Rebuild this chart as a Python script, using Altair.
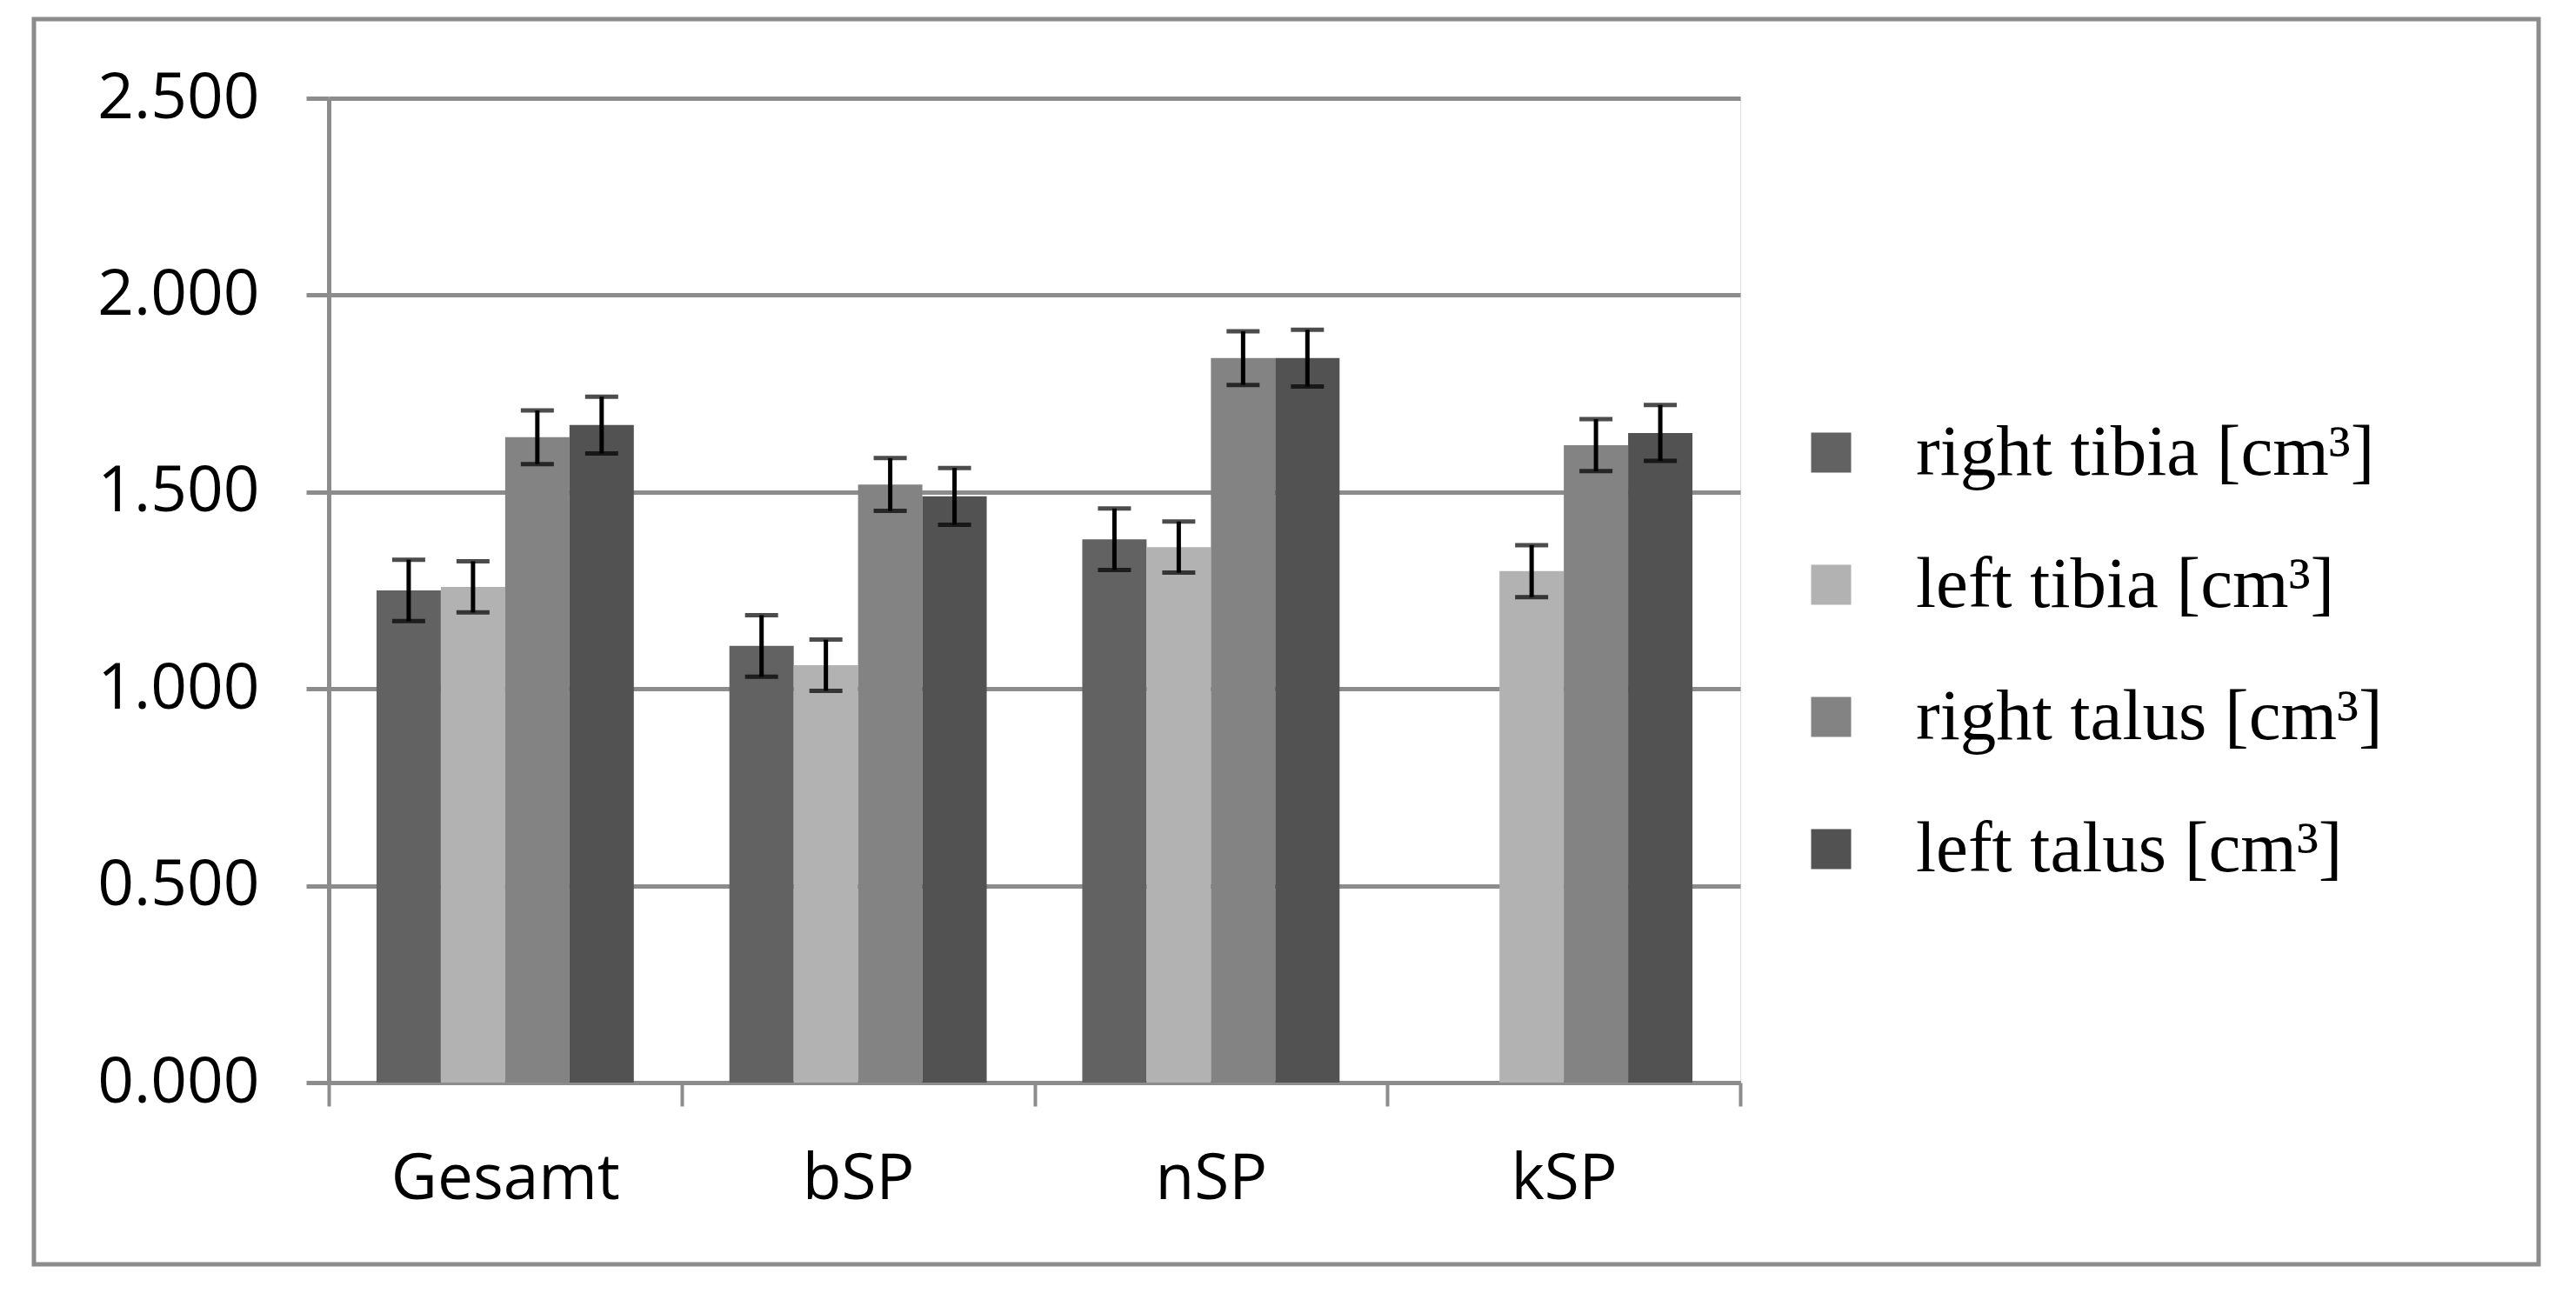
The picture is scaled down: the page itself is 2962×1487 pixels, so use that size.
import altair as alt
import pandas as pd

categories = ["Gesamt", "bSP", "nSP", "kSP"]
series = ["right tibia [cm³]", "left tibia [cm³]", "right talus [cm³]", "left talus [cm³]"]

right_tibia = [1.250, 1.109, 1.380, None]
left_tibia = [1.259, 1.060, 1.360, 1.299]
right_talus = [1.639, 1.519, 1.840, 1.619]
left_talus = [1.670, 1.489, 1.840, 1.650]

right_tibia_err = [0.078, 0.078, 0.078, None]
left_tibia_err = [0.065, 0.065, 0.065, 0.066]
right_talus_err = [0.068, 0.067, 0.068, 0.066]
left_talus_err = [0.072, 0.072, 0.072, 0.071]

colors = ["#626262", "#b2b2b2", "#838383", "#525252"]
y_ticks = [0.0, 0.5, 1.0, 1.5, 2.0, 2.5]

vals = [right_tibia, left_tibia, right_talus, left_talus]
errs = [right_tibia_err, left_tibia_err, right_talus_err, left_talus_err]
rows = []
for s, v_list, e_list in zip(series, vals, errs):
    for c, v, e in zip(categories, v_list, e_list):
        if v is None:
            continue
        rows.append({"cat": c, "series": s, "value": v, "lo": v - e, "hi": v + e})
df = pd.DataFrame(rows)

GREY = "#8c8c8c"
W, H = 1623, 1132

x_enc = alt.X("cat:N", sort=categories,
              scale=alt.Scale(paddingInner=0, paddingOuter=0),
              axis=alt.Axis(title=None, labelAngle=0, tickBand="extent",
                            labelFont="Open Sans", labelFontSize=73, labelColor="black",
                            labelPadding=48, tickSize=27, tickWidth=4, tickColor=GREY,
                            domainColor=GREY, domainWidth=5, grid=False, labelLimit=0))
xo_enc = alt.XOffset("series:N", sort=series,
                     scale=alt.Scale(paddingInner=0, paddingOuter=0.743))
y_scale = alt.Scale(domain=[0, 2.5], nice=False)

bars = alt.Chart(df).mark_bar().encode(
    x=x_enc,
    xOffset=xo_enc,
    y=alt.Y("value:Q", scale=y_scale,
            axis=alt.Axis(title=None, values=y_ticks, format=".3f",
                          labelFont="Open Sans", labelFontSize=73, labelColor="black",
                          labelPadding=54, tickSize=26, tickWidth=5, tickColor=GREY,
                          domainColor=GREY, domainWidth=5, labelLimit=0,
                          grid=True, gridColor=GREY, gridWidth=5)),
    color=alt.Color("series:N", sort=series,
                    scale=alt.Scale(domain=series, range=colors),
                    legend=alt.Legend(title=None, orient="none", legendX=1686, legendY=366,
                                      symbolType="square", symbolSize=2116,
                                      symbolStrokeWidth=0, labelFont="Liberation Serif",
                                      labelFontSize=83, labelColor="black",
                                      labelOffset=56, rowPadding=68, padding=0,
                                      labelLimit=0)),
)

rules = alt.Chart(df).mark_rule(color="black", strokeWidth=5).encode(
    x=alt.X("cat:N", sort=categories),
    xOffset=alt.XOffset("series:N", sort=series),
    y=alt.Y("lo:Q", scale=y_scale),
    y2="hi:Q",
)
cap_hi = alt.Chart(df).mark_tick(color="black", size=38, thickness=5).encode(
    x=alt.X("cat:N", sort=categories),
    xOffset=alt.XOffset("series:N", sort=series),
    y=alt.Y("hi:Q", scale=y_scale),
)
cap_lo = alt.Chart(df).mark_tick(color="black", size=38, thickness=5).encode(
    x=alt.X("cat:N", sort=categories),
    xOffset=alt.XOffset("series:N", sort=series),
    y=alt.Y("lo:Q", scale=y_scale),
)

border = alt.Chart(pd.DataFrame({"a": [0]})).mark_rect(
    filled=False, stroke=GREY, strokeWidth=5
).encode(
    x=alt.value(39 - 378), x2=alt.value(2919 - 378),
    y=alt.value(22 - 113), y2=alt.value(1454 - 113),
)

chart = alt.layer(border, bars, rules, cap_hi, cap_lo).properties(
    width=W, height=H,
    autosize=alt.AutoSizeParams(type="none"),
    padding={"left": 370, "top": 105, "right": 947, "bottom": 233},
).configure_view(stroke=None).configure(background="white")

chart.save("out.html", embed_options={"renderer": "svg", "actions": False})
